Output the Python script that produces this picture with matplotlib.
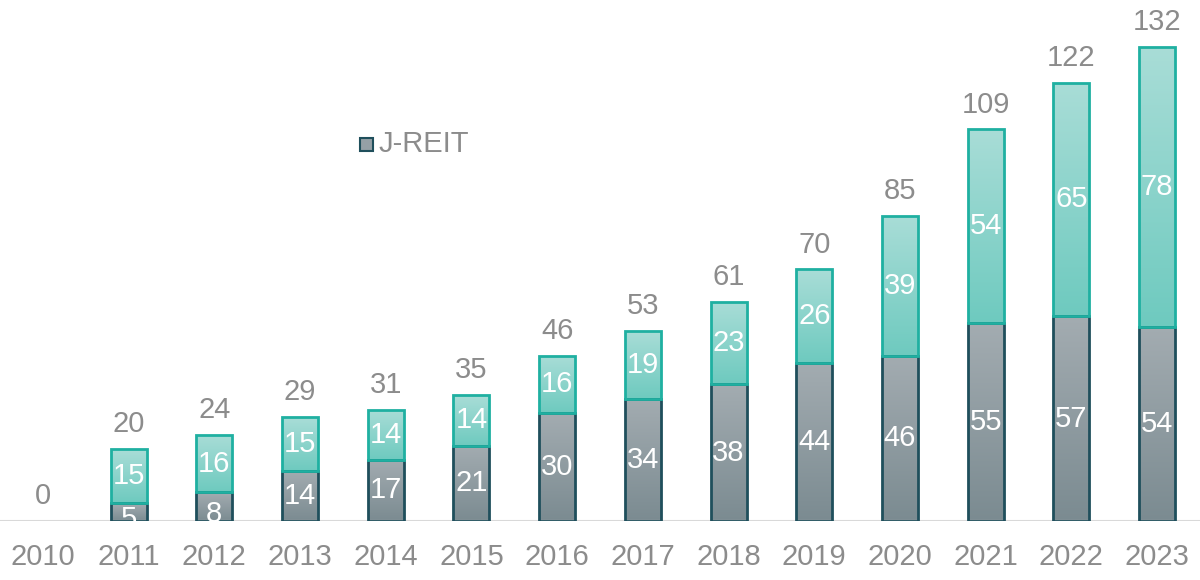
import matplotlib
matplotlib.use("Agg")
import matplotlib.pyplot as plt
import numpy as np
from matplotlib.patches import Rectangle
from matplotlib.colors import LinearSegmentedColormap

plt.rcParams["font.family"] = "Liberation Sans"

years = ["2010","2011","2012","2013","2014","2015","2016","2017","2018","2019","2020","2021","2022","2023"]
jreit = [0,5,8,14,17,21,30,34,38,44,46,55,57,54]
other = [0,15,16,15,14,14,16,19,23,26,39,54,65,78]
totals = [0,20,24,29,31,35,46,53,61,70,85,109,122,132]

fig = plt.figure(figsize=(12,5.8), dpi=100)
ax = fig.add_axes([0,59/580,1,521/580])
ax.set_xlim(-0.5,13.5)
ax.set_ylim(0,145)
w = 0.42
cm_g = LinearSegmentedColormap.from_list("g", ["#7b8b91","#a3acb1"])
cm_t = LinearSegmentedColormap.from_list("t", ["#6ecabf","#a9ddd7"])
grad = np.linspace(0,1,256).reshape(-1,1)

def gbar(x, y0, h, cmap, ec):
    if h <= 0: return
    r = Rectangle((x-w/2,y0), w, h, facecolor="none", edgecolor=ec, lw=2, zorder=3)
    ax.add_patch(r)
    im = ax.imshow(grad, cmap=cmap, origin="lower", aspect="auto",
                   extent=(x-w/2,x+w/2,y0,y0+h), zorder=2)
    im.set_clip_path(r)

fs = 21
for i in range(len(years)):
    gbar(i, 0, jreit[i], cm_g, "#1f4f5c")
    gbar(i, jreit[i], other[i], cm_t, "#1fb0a1")
    if jreit[i] > 0:
        ax.text(i, jreit[i]/2 - (2 if jreit[i] < 10 else 0), str(jreit[i]), ha="center", va="center", color="white", fontsize=fs, zorder=4)
    if other[i] > 0:
        ax.text(i, jreit[i]+other[i]/2, str(other[i]), ha="center", va="center", color="white", fontsize=fs, zorder=4)
    ax.text(i, totals[i]+3, str(totals[i]), ha="center", va="bottom", color="#8c8c8c", fontsize=fs)

ax.axhline(0, color="#d9d9d9", lw=1.5)
for s in ax.spines.values(): s.set_visible(False)
ax.set_yticks([])
ax.set_xticks(range(len(years)))
ax.set_xticklabels(years, fontsize=fs, color="#8c8c8c")
ax.tick_params(axis="x", length=0, pad=16)

fig.patches.append(Rectangle((360/1200, 1-151/580), 13/1200, 13/580, transform=fig.transFigure,
                             facecolor="#95a0a6", edgecolor="#1f4f5c", lw=1.5))
fig.text(379/1200, 1-144/580, "J-REIT", fontsize=fs, color="#8c8c8c", va="center")
fig.savefig("out.png")
